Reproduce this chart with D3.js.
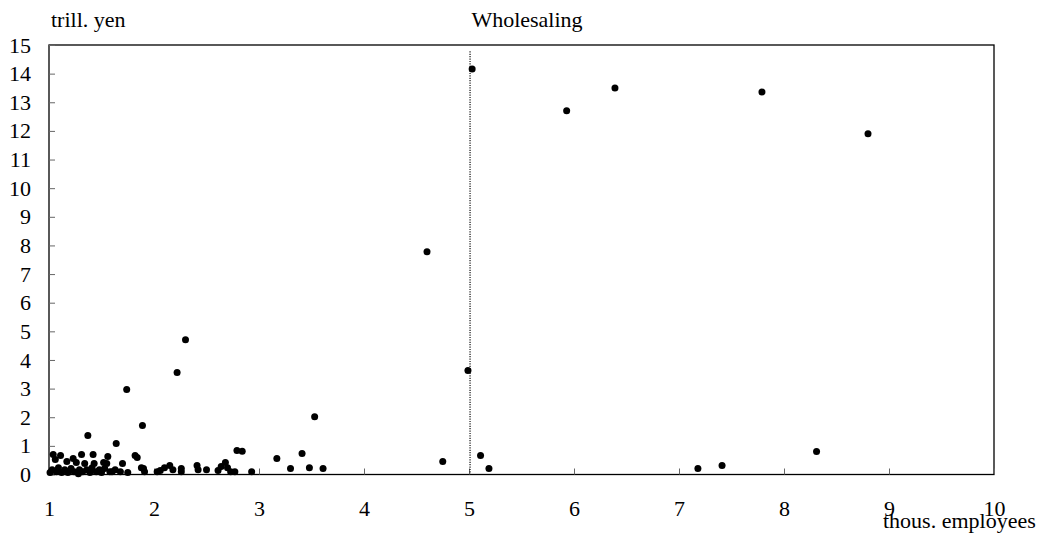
<!DOCTYPE html>
<html>
<head>
<meta charset="utf-8">
<script src="https://cdn.jsdelivr.net/npm/d3@7"></script>
<style>
  body { margin: 0; background: #fff; }
  text { font-family: "Liberation Serif", "Times New Roman", serif; }
</style>
</head>
<body>
<script>
// employees (thous.) vs sales (trill. yen), one dot per firm
var employees = [
    5.03, 5.93, 6.39, 7.79, 8.80, 4.60, 4.99, 2.30, 2.22, 1.74,
    1.89, 3.53, 1.64, 1.37, 4.75, 5.11, 5.19, 7.18, 7.41, 8.31,
    3.41, 3.30, 3.48, 3.61, 2.79, 2.84, 3.17,
    2.15, 2.18, 2.26, 2.26, 2.41, 2.42, 2.50, 2.61, 2.64, 2.68,
    2.70, 2.73, 2.77, 2.93, 2.10, 2.06, 2.03, 1.91, 1.90, 1.84,
    1.82, 1.70, 1.68, 1.60, 1.58, 1.55, 1.56, 1.88,
    1.04, 1.06, 1.11, 1.17, 1.23, 1.26, 1.31, 1.34, 1.42, 1.43, 1.52,
    1.01, 1.03, 1.07, 1.09, 1.12, 1.15, 1.18, 1.21, 1.24, 1.28,
    1.29, 1.32, 1.36, 1.39, 1.41, 1.45, 1.48, 1.50, 1.53, 1.63, 1.75
];
var sales = [
    14.16, 12.70, 13.50, 13.36, 11.90, 7.78, 3.63, 4.71, 3.56, 2.97,
    1.71, 2.02, 1.08, 1.36, 0.45, 0.66, 0.21, 0.21, 0.31, 0.80,
    0.73, 0.21, 0.24, 0.21, 0.84, 0.81, 0.56,
    0.31, 0.17, 0.21, 0.10, 0.31, 0.17, 0.17, 0.14, 0.28, 0.42,
    0.24, 0.10, 0.10, 0.10, 0.24, 0.14, 0.10, 0.10, 0.21, 0.59,
    0.66, 0.38, 0.10, 0.10, 0.10, 0.38, 0.63, 0.24,
    0.70, 0.52, 0.66, 0.45, 0.56, 0.42, 0.70, 0.38, 0.70, 0.38, 0.42,
    0.07, 0.17, 0.10, 0.24, 0.07, 0.17, 0.07, 0.21, 0.10, 0.03,
    0.17, 0.10, 0.17, 0.07, 0.24, 0.10, 0.17, 0.07, 0.21, 0.17, 0.07
];
var xTicks = [1, 2, 3, 4, 5, 6, 7, 8, 9, 10];
var yTicks = [0, 1, 2, 3, 4, 5, 6, 7, 8, 9, 10, 11, 12, 13, 14, 15];
var markerX = 5.01;     // dotted reference line
var markerTop = 14.78;
var title = "Wholesaling";
var yLabel = "trill. yen";
var xLabel = "thous. employees";

var W = 1046, H = 539;
// plot box (top is reserved on window, so use names of our own)
var plot = {left: 49, right: 994, top: 45, bottom: 474.5};

var svg = d3.select("body").append("svg")
    .attr("width", W)
    .attr("height", H);

var x = d3.scaleLinear().domain([1, 10]).range([plot.left, plot.right]);
var y = d3.scaleLinear().domain([0, 15]).range([plot.bottom, plot.top]);

// frame
svg.append("rect")
    .attr("x", plot.left)
    .attr("y", plot.top)
    .attr("width", plot.right - plot.left)
    .attr("height", plot.bottom - plot.top)
    .attr("fill", "none")
    .attr("stroke", "#000")
    .attr("stroke-width", 1.3);

// x axis, ticks pointing up into the plot
var xAxis = svg.append("g")
    .attr("transform", "translate(0," + plot.bottom + ")")
    .call(d3.axisBottom(x).tickValues(xTicks).tickSizeInner(-6)
        .tickSizeOuter(0).tickFormat(d3.format("d")));
xAxis.select(".domain").remove();
xAxis.selectAll("line").attr("stroke", "#666");
xAxis.selectAll("text")
    .attr("y", 41.5)
    .attr("dy", null)
    .attr("fill", "#000")
    .style("font-size", "22px");

// y axis, ticks pointing right into the plot
var yAxis = svg.append("g")
    .attr("transform", "translate(" + plot.left + ",0)")
    .call(d3.axisLeft(y).tickValues(yTicks).tickSizeInner(-6)
        .tickSizeOuter(0).tickFormat(d3.format("d")));
yAxis.select(".domain").remove();
yAxis.selectAll("line").attr("stroke", "#666");
yAxis.selectAll("text")
    .attr("x", -18)
    .attr("dy", "0.32em")
    .attr("fill", "#000")
    .style("font-size", "22px");

// dotted vertical marker
svg.append("line")
    .attr("x1", x(markerX))
    .attr("x2", x(markerX))
    .attr("y1", y(markerTop))
    .attr("y2", y(0))
    .attr("stroke", "#111")
    .attr("stroke-width", 1.2)
    .attr("stroke-dasharray", "1.2,1.2");

// dots
svg.append("g").selectAll("circle")
    .data(d3.range(employees.length))
    .enter()
    .append("circle")
    .attr("cx", function(i) { return x(employees[i]); })
    .attr("cy", function(i) { return y(sales[i]); })
    .attr("r", 3.5)
    .attr("fill", "#000");

// labels
svg.append("text")
    .attr("x", 51)
    .attr("y", 27)
    .style("font-size", "22px")
    .text(yLabel);

svg.append("text")
    .attr("x", 527)
    .attr("y", 27)
    .attr("text-anchor", "middle")
    .style("font-size", "22px")
    .text(title);

svg.append("text")
    .attr("x", 883)
    .attr("y", 528)
    .style("font-size", "22px")
    .text(xLabel);
</script>
</body>
</html>
